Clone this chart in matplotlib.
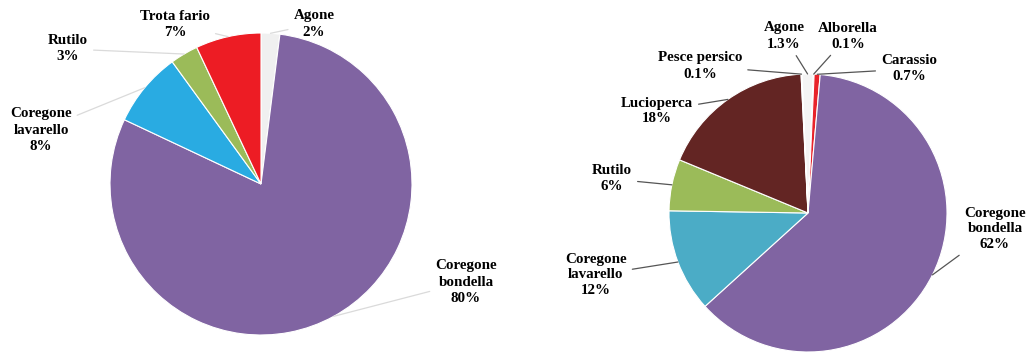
import numpy as np
import matplotlib
matplotlib.use("Agg")
import matplotlib.pyplot as plt

# pescato per specie - primo bacino
specie_1 = ["Agone", "Coregone\nbondella", "Coregone\nlavarello", "Rutilo", "Trota fario"]
quote_1 = [2, 80, 8, 3, 7]
etichette_1 = ["2%", "80%", "8%", "3%", "7%"]
colori_1 = ["#F0F0F0", "#8064A2", "#29ABE2", "#9BBB59", "#ED1C24"]

# pescato per specie - secondo bacino
specie_2 = ["Agone", "Alborella", "Carassio", "Coregone\nbondella", "Coregone\nlavarello",
            "Rutilo", "Lucioperca", "Pesce persico"]
quote_2 = [1.3, 0.1, 0.7, 62, 12, 6, 18, 0.1]
etichette_2 = ["1.3%", "0.1%", "0.7%", "62%", "12%", "6%", "18%", "0.1%"]
colori_2 = ["#F4F4F4", "#F4F4F4", "#E8232A", "#8064A2", "#4BACC6", "#9BBB59", "#632523", "#F4F4F4"]

plt.rcParams["font.family"] = ["Liberation Serif", "DejaVu Serif"]

W, H = 1030, 355
fig = plt.figure(figsize=(W / 100, H / 100), dpi=100)
ax = fig.add_axes([0, 0, 1, 1])


def torta(centro, raggio, valori, colori, start):
    wedges, _ = ax.pie(valori, colors=colori, startangle=start, counterclock=False,
                       center=(centro[0], H - centro[1]), radius=raggio, frame=True,
                       wedgeprops=dict(edgecolor="white", linewidth=0.8))
    return wedges


def etichette(wedges, centro, raggio, nomi, valori, posizioni, colore_linea):
    for w, nome, val, pos in zip(wedges, nomi, valori, posizioni):
        ang = np.deg2rad((w.theta1 + w.theta2) / 2)
        x = centro[0] + raggio * np.cos(ang)
        y = H - centro[1] + raggio * np.sin(ang)
        ax.annotate(nome + "\n" + val, xy=(x, y), xytext=(pos[0], H - pos[1]),
                    ha="center", va="center",
                    fontsize=10.8, fontweight="bold", linespacing=1.3,
                    arrowprops=dict(arrowstyle="-", color=colore_linea, lw=0.9,
                                    shrinkA=2, shrinkB=0))


c1, r1 = (261, 184), 151
w1 = torta(c1, r1, quote_1, colori_1, 90)
pos_1 = [(314, 24), (466, 282), (41, 130), (68, 49), (175, 24)]
etichette(w1, c1, r1, specie_1, etichette_1, pos_1, "#DADADA")

c2, r2 = (808, 213), 139
w2 = torta(c2, r2, quote_2, colori_2, 92.5)
pos_2 = [(784, 36), (848, 36), (909, 69), (995, 229), (596, 275),
         (612, 179), (657, 111), (700, 66)]
etichette(w2, c2, r2, specie_2, etichette_2, pos_2, "#555555")

ax.set_xlim(0, W)
ax.set_ylim(0, H)
ax.set_aspect("equal")
ax.axis("off")
fig.savefig("out.png", dpi=100)
